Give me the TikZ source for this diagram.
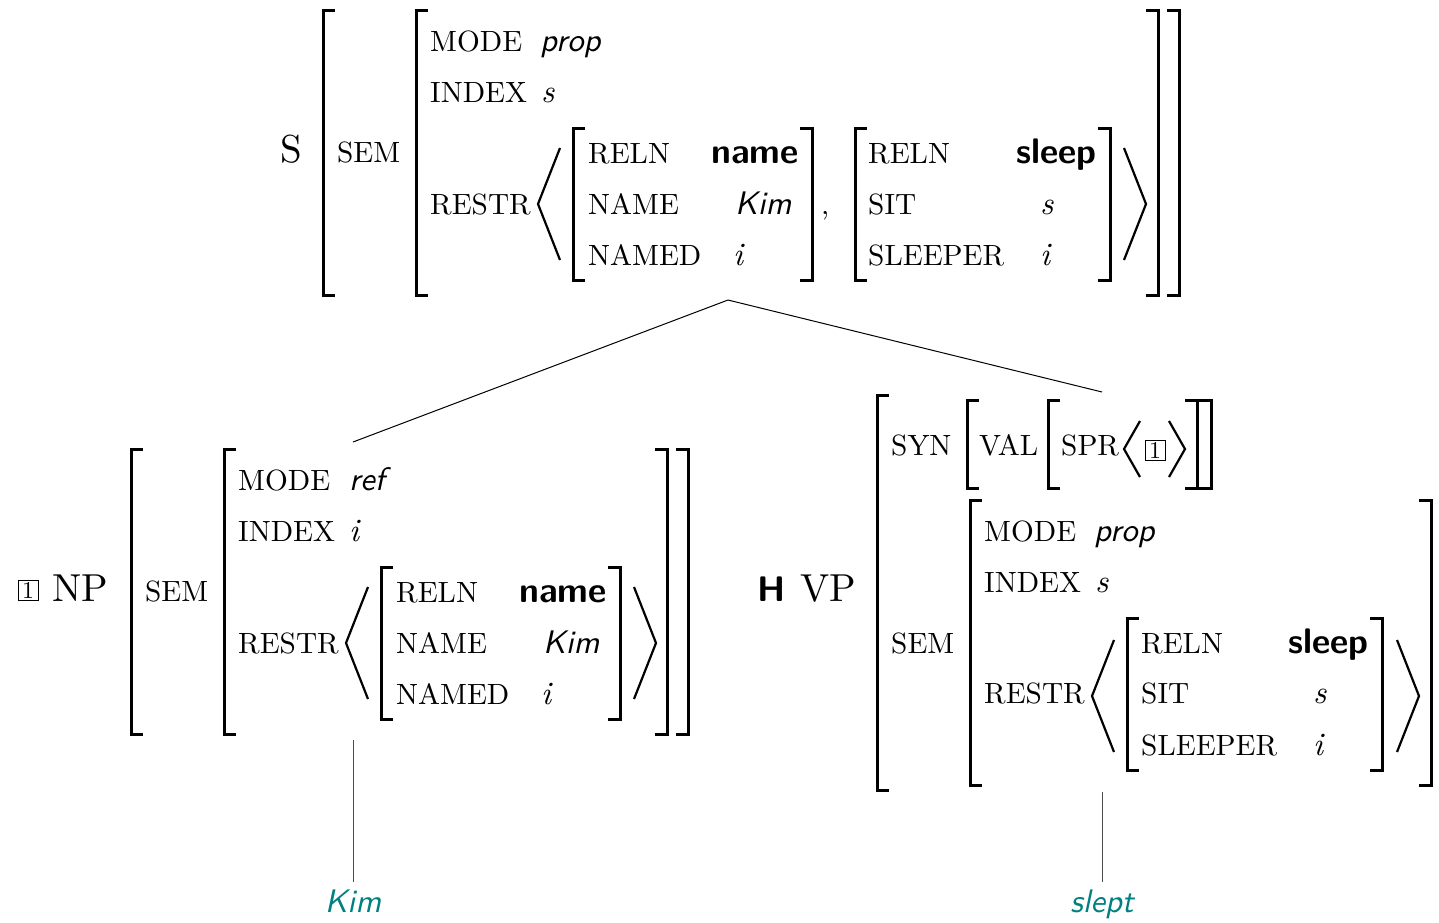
\documentclass[tikz,border=0pt]{standalone}
\usepackage{fontspec}
\setmainfont{lmroman10-regular.otf}[ItalicFont=lmroman10-italic.otf, BoldFont=lmroman10-bold.otf]
\setsansfont{lmsans10-regular.otf}[ItalicFont=lmsans10-oblique.otf, BoldFont=lmsans10-bold.otf]
\usepackage{xcolor}
\definecolor{leafcol}{RGB}{0,128,128}
\newcommand\ftfont{\fontsize{29.3}{35}\selectfont}
\newcommand\lbfont{\fontsize{39}{47}\selectfont}
\newcommand\vlfont{\fontsize{32.6}{39}\selectfont}
\newcommand\bffont{\fontsize{35.5}{42}\selectfont}
\newcommand\avmtext[5]{\node[#1,anchor=base west] (#2) at (#3,#4) {#5};}
\newcommand\avmright[5]{\node[#1,anchor=base east] (#2) at (#3,#4) {#5};}
\newcommand\lsq[3]{\draw[sqb] ({#1+12},#2) -| (#1,#3) -- ({#1+12},#3);}
\newcommand\rsq[3]{\draw[sqb] ({#1-12},#2) -| (#1,#3) -- ({#1-12},#3);}
\newcommand\angb[4]{\draw[angl] (#1,#3) -- (#2,{(#3+#4)/2}) -- (#1,#4);}
\tikzset{
  feat/.style={font=\ftfont, inner sep=0pt},
  lab/.style={font=\lbfont, inner sep=0pt},
  vit/.style={font=\vlfont\sffamily\itshape, inner sep=0pt},
  vbf/.style={font=\bffont\sffamily\bfseries, inner sep=0pt},
  vmi/.style={font=\vlfont\itshape, inner sep=0pt},
  tagbox/.style={draw, line width=0.7pt, inner sep=0pt, minimum size=20pt, font=\fontsize{24}{28}\selectfont},
  sqb/.style={line width=3pt, line join=miter, line cap=butt},
  angl/.style={line width=2.2pt, line join=miter},
  avmbox/.style={inner sep=0pt, outer sep=0pt, draw=none},
  edge/.style={line width=1pt},
  leafedge/.style={line width=0.8pt, draw=black!70},
  leaf/.style={font=\vlfont\sffamily\itshape, text=leafcol, inner sep=0pt, text height=23pt, text depth=7pt, outer ysep=7pt}
}
\begin{document}
\begin{tikzpicture}[x=1pt,y=-1pt]
\useasboundingbox (0,0) rectangle (1439,922);
% ---------- invisible AVM boxes for the tree ----------
\node[avmbox, minimum width=908pt, minimum height=290pt] (S) at (728,155) {};
\node[avmbox, minimum width=680pt, minimum height=298pt] (NP) at (353,591) {};
\node[avmbox, minimum width=690pt, minimum height=400pt] (VP) at (1102,592) {};
% ---------- S AVM ----------
\avmtext{lab}{sl}{280}{162}{S}
\lsq{323}{10}{295}
\avmtext{feat}{ssem}{337}{162}{SEM}
\lsq{416}{10}{295}
\avmtext{feat}{smode}{430}{51}{MODE}
\avmtext{vit}{sprop}{540}{51}{prop}
\avmtext{feat}{sindex}{430}{102}{INDEX}
\avmtext{vmi}{ss}{541}{102}{s}
\avmtext{feat}{srestr}{430}{214}{RESTR}
\angb{560}{538}{148}{260}
\lsq{573}{128}{280}
\avmtext{feat}{sreln1}{588}{163}{RELN}
\avmright{vbf}{sname}{799}{163}{name}
\avmtext{feat}{sname1}{588}{214}{NAME}
\avmtext{vit}{skim}{735}{214}{Kim}
\avmtext{feat}{snamed}{588}{265}{NAMED}
\avmtext{vmi}{si1}{733}{265}{i}
\rsq{812}{128}{280}
\avmtext{feat}{scomma}{821}{214}{,}
\lsq{855}{128}{280}
\avmtext{feat}{sreln2}{868}{163}{RELN}
\avmright{vbf}{ssleep}{1097}{163}{sleep}
\avmtext{feat}{ssit}{868}{214}{SIT}
\avmtext{vmi}{ss2}{1040}{214}{s}
\avmtext{feat}{ssleeper}{868}{265}{SLEEPER}
\avmtext{vmi}{si2}{1040}{265}{i}
\rsq{1110}{128}{280}
\angb{1124}{1146}{148}{260}
\rsq{1158}{10}{295}
\rsq{1179}{10}{295}
% ---------- NP AVM ----------
\node[tagbox] (nptag) at (28,590) {1};
\avmtext{lab}{npl}{52}{601}{NP}
\lsq{131}{449}{734}
\avmtext{feat}{npsem}{145}{601}{SEM}
\lsq{224}{449}{734}
\avmtext{feat}{npmode}{238}{490}{MODE}
\avmtext{vit}{npref}{349}{490}{ref}
\avmtext{feat}{npindex}{238}{541}{INDEX}
\avmtext{vmi}{npi}{349}{541}{i}
\avmtext{feat}{nprestr}{238}{653}{RESTR}
\angb{368}{346}{587}{699}
\lsq{381}{567}{719}
\avmtext{feat}{npreln}{396}{602}{RELN}
\avmright{vbf}{npname}{607}{602}{name}
\avmtext{feat}{npname1}{396}{653}{NAME}
\avmtext{vit}{npkim}{543}{653}{Kim}
\avmtext{feat}{npnamed}{396}{704}{NAMED}
\avmtext{vmi}{npi2}{541}{704}{i}
\rsq{620}{567}{719}
\angb{634}{656}{587}{699}
\rsq{667}{449}{734}
\rsq{688}{449}{734}
% ---------- VP AVM ----------
\avmtext{vbf}{vph}{757}{601}{H}
\avmtext{lab}{vpl}{800}{601}{VP}
\lsq{877}{395}{790}
\avmtext{feat}{vpsyn}{891}{455}{SYN}
\lsq{967}{400}{488}
\avmtext{feat}{vpval}{979}{455}{VAL}
\lsq{1048}{400}{488}
\avmtext{feat}{vpspr}{1061}{455}{SPR}
\angb{1140}{1124}{421}{477}
\node[tagbox] (vptag) at (1155,450) {1};
\angb{1169}{1185}{421}{477}
\rsq{1197}{400}{488}
\rsq{1211}{400}{488}
\avmtext{feat}{vpsem}{891}{653}{SEM}
\lsq{970}{500}{785}
\avmtext{feat}{vpmode}{984}{541}{MODE}
\avmtext{vit}{vpprop}{1094}{541}{prop}
\avmtext{feat}{vpindex}{984}{592}{INDEX}
\avmtext{vmi}{vps}{1095}{592}{s}
\avmtext{feat}{vprestr}{984}{703}{RESTR}
\angb{1114}{1092}{640}{752}
\lsq{1127}{618}{770}
\avmtext{feat}{vpreln}{1141}{653}{RELN}
\avmright{vbf}{vpsleep}{1369}{653}{sleep}
\avmtext{feat}{vpsit}{1141}{703}{SIT}
\avmtext{vmi}{vps2}{1313}{703}{s}
\avmtext{feat}{vpsleeper}{1141}{755}{SLEEPER}
\avmtext{vmi}{vpi}{1313}{755}{i}
\rsq{1382}{618}{770}
\angb{1397}{1419}{640}{752}
\rsq{1431}{500}{785}
% ---------- leaves ----------
\node[leaf, anchor=north] (kim) at (353,882) {Kim};
\node[leaf, anchor=north] (slept) at (1102,882) {slept};
% ---------- tree edges ----------
\draw[edge] (S.south) -- (NP.north);
\draw[edge] (S.south) -- (VP.north);
\draw[leafedge] (NP.south) -- (kim.north);
\draw[leafedge] (VP.south) -- (slept.north);
\end{tikzpicture}
\end{document}
